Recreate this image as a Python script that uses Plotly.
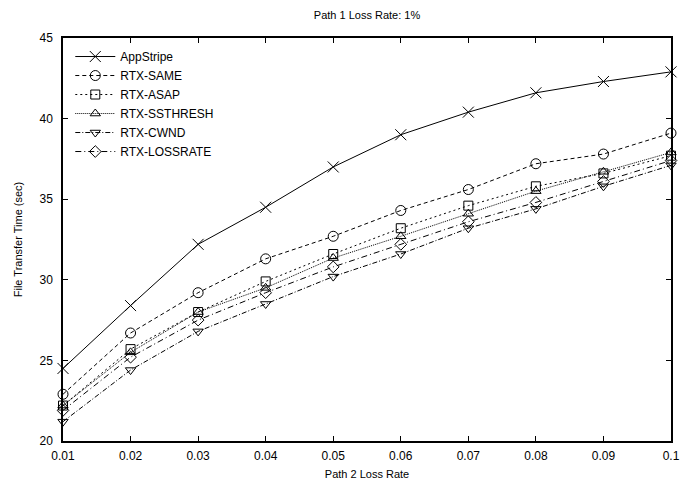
import plotly.graph_objects as go

loss_rate = [0.01, 0.02, 0.03, 0.04, 0.05, 0.06, 0.07, 0.08, 0.09, 0.10]
x_tick_labels = ["0.01", "0.02", "0.03", "0.04", "0.05", "0.06", "0.07", "0.08", "0.09", "0.1"]
y_ticks = [20, 25, 30, 35, 40, 45]

appstripe = [24.5, 28.4, 32.2, 34.5, 37.0, 39.0, 40.4, 41.6, 42.3, 42.9]
rtx_same = [22.9, 26.7, 29.2, 31.3, 32.7, 34.3, 35.6, 37.2, 37.8, 39.1]
rtx_asap = [22.2, 25.7, 28.0, 29.9, 31.6, 33.2, 34.6, 35.8, 36.6, 37.7]
rtx_ssthresh = [22.2, 25.5, 28.0, 29.5, 31.35, 32.7, 34.1, 35.5, 36.7, 37.9]
rtx_cwnd = [21.2, 24.4, 26.8, 28.5, 30.2, 31.6, 33.2, 34.4, 35.8, 37.1]
rtx_lossrate = [21.9, 25.2, 27.5, 29.2, 30.8, 32.2, 33.6, 34.8, 36.1, 37.4]

series = [
    ("AppStripe", appstripe, "solid", "x-thin-open", 11),
    ("RTX-SAME", rtx_same, "4px,3px", "circle-open", 10),
    ("RTX-ASAP", rtx_asap, "2px,3px", "square-open", 9),
    ("RTX-SSTHRESH", rtx_ssthresh, "1px,1px", "triangle-up-open", 9),
    ("RTX-CWND", rtx_cwnd, "5px,2px,1px,2px", "triangle-down-open", 9),
    ("RTX-LOSSRATE", rtx_lossrate, "6px,3px,1px,3px", "diamond-open", 9),
]

fig = go.Figure()
for name, vals, dash, sym, size in series:
    fig.add_trace(go.Scatter(
        x=loss_rate, y=vals, name=name, mode="lines+markers",
        line=dict(color="black", width=1, dash=dash),
        marker=dict(symbol=sym, size=size, color="black", line=dict(color="black", width=1)),
        cliponaxis=False,
    ))

font = dict(family="Liberation Sans, Arial, sans-serif", size=12, color="black")

fig.update_layout(
    width=681, height=480,
    margin=dict(l=63, r=10, t=38, b=39),
    paper_bgcolor="white", plot_bgcolor="white",
    font=font,
    title=dict(text="Path 1 Loss Rate: 1%", x=367 / 681, xanchor="center",
               y=1 - 15 / 480, yanchor="middle", font=dict(size=11)),
    showlegend=True,
    legend=dict(x=0.012, y=0.99, xanchor="left", yanchor="top", bgcolor="rgba(0,0,0,0)",
                font=dict(size=12), tracegroupgap=0, itemwidth=40),
)
fig.update_xaxes(
    range=[0.01, 0.1], tickvals=loss_rate, ticktext=x_tick_labels,
    ticks="inside", ticklen=5, tickcolor="black", tickwidth=1.2, mirror="ticks",
    showline=True, linecolor="black", linewidth=1.5, showgrid=False, zeroline=False,
    ticklabelstandoff=3, automargin=False,
    title=dict(text="Path 2 Loss Rate", font=dict(size=11)),
)
fig.update_yaxes(
    range=[20, 45], tickvals=y_ticks,
    ticks="inside", ticklen=5, tickcolor="black", tickwidth=1.2, mirror="ticks",
    showline=True, linecolor="black", linewidth=1.5, showgrid=False, zeroline=False,
    ticklabelstandoff=6, automargin=False,
    title=dict(text="File Transfer Time (sec)", font=dict(size=11)),
)

fig.write_html("out.html")
